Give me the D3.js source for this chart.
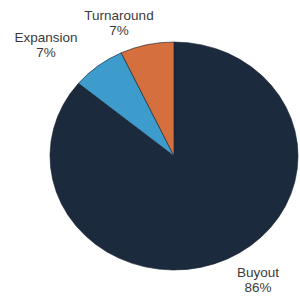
<!DOCTYPE html>
<html><head><meta charset="utf-8">
<script src="https://cdn.jsdelivr.net/npm/d3@7"></script>
<style>html,body{margin:0;padding:0;background:#fff;}svg{display:block;}</style>
</head><body>
<script>
const categories = ["Buyout", "Expansion", "Turnaround"];
const values = [86, 7, 7];
const labels = ["86%", "7%", "7%"];
const colors = ["#1b2a3c", "#3d9ccb", "#d5703e"];
const labelPos = [[258, 277], [46, 42], [119, 20]];

const W = 300, H = 299;
const cx = 174, cy = 156, rx = 124, ry = 114;
const svg = d3.select("body").append("svg").attr("width", W).attr("height", H);

const pie = d3.pie().sort(null).value(d => d)(values);
const arc = d3.arc().innerRadius(0).outerRadius(ry);
const g = svg.append("g").attr("transform", `translate(${cx},${cy}) scale(${rx/ry},1)`);
g.selectAll("path").data(pie).join("path")
  .attr("d", arc)
  .attr("fill", (d, i) => colors[i])
  .attr("stroke", "#16202d")
  .attr("stroke-width", 0.6);

const t = svg.append("g").selectAll("text").data(categories).join("text")
  .attr("x", (d, i) => labelPos[i][0])
  .attr("y", (d, i) => labelPos[i][1])
  .attr("text-anchor", "middle")
  .attr("font-family", "Liberation Sans, Arial, sans-serif")
  .attr("font-size", 13.5)
  .attr("fill", "#3a3a3a");
t.append("tspan").text(d => d);
t.append("tspan").attr("x", (d, i) => labelPos[i][0]).attr("dy", 15).text((d, i) => labels[i]);
</script>
</body></html>
